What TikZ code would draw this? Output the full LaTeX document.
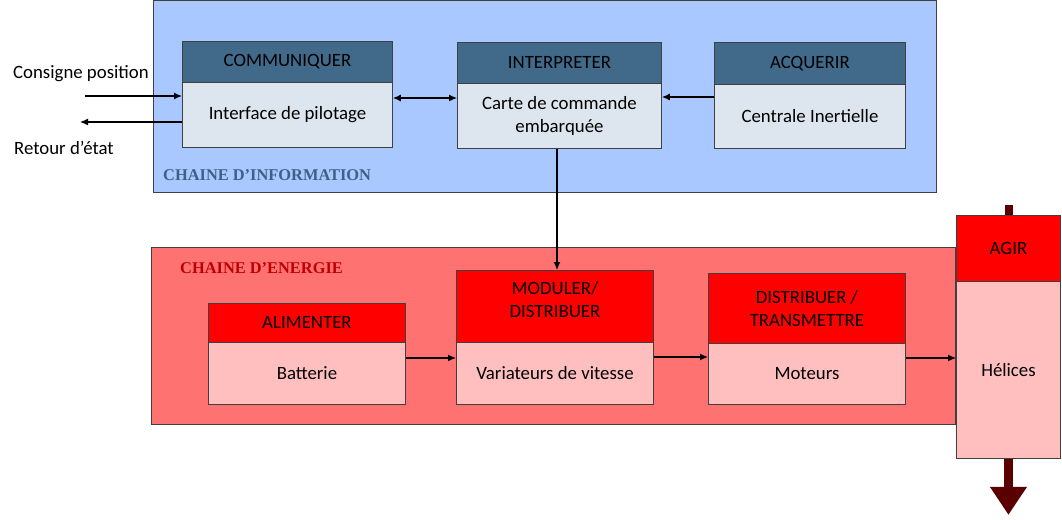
\documentclass[tikz,border=0pt]{standalone}
\usepackage{fontspec}
\setmainfont{Carlito}
\newfontfamily\titlefont{Liberation Serif}
\usetikzlibrary{arrows.meta,calc}
\definecolor{frameblue}{HTML}{A8C8FF}
\definecolor{hdrblue}{HTML}{416A8A}
\definecolor{bodyblue}{HTML}{DDE6EE}
\definecolor{framered}{HTML}{FF7272}
\definecolor{hdrred}{HTML}{FF0000}
\definecolor{bodyred}{HTML}{FFBFBF}
\definecolor{darkred}{HTML}{5A0000}
\definecolor{titleblue}{HTML}{3F6086}
\definecolor{titlered}{HTML}{C00000}
\definecolor{edge}{HTML}{404040}
\begin{document}
\begin{tikzpicture}[x=1pt,y=-1pt,
  txt/.style={font=\fontsize{18.8}{23}\selectfont},
  box/.style={txt,draw=edge,line width=0.9pt,rectangle,anchor=north west,inner sep=0pt,align=center},
  hdrB/.style={box,fill=hdrblue},
  bodyB/.style={box,fill=bodyblue},
  hdrR/.style={box,fill=hdrred},
  bodyR/.style={box,fill=bodyred},
  frame/.style={draw=edge,line width=0.9pt,rectangle,anchor=north west,inner sep=0pt},
  title/.style={font=\titlefont\bfseries\fontsize{16.4}{18}\selectfont,anchor=west,inner sep=0pt},
  arr/.style={line width=1.2pt,-{Latex[length=8pt,width=7pt]}},
  darr/.style={line width=1.2pt,{Latex[length=8pt,width=7pt]}-{Latex[length=8pt,width=7pt]}},
  lbl/.style={txt,inner sep=0pt,anchor=west}
]
\useasboundingbox (0,0) rectangle (1062,519);
% frames
\node[frame,fill=frameblue,minimum width=783pt,minimum height=192pt] (info) at (153,0) {};
\node[title,text=titleblue] (infot) at (163,175) {CHAINE D’INFORMATION};
\node[frame,fill=framered,minimum width=804pt,minimum height=177pt] (energ) at (151,247) {};
\node[title,text=titlered] (energt) at (180,268) {CHAINE D’ENERGIE};
% information blocks
\node[hdrB,minimum width=210pt,minimum height=41pt] (comH) at (182,41) {COMMUNIQUER};
\node[bodyB,minimum width=210pt,minimum height=65pt] (comB) at (182,82) {Interface de pilotage};
\node[hdrB,minimum width=204pt,minimum height=41pt] (intH) at (457,42) {INTERPRETER};
\node[bodyB,minimum width=204pt,minimum height=65pt] (intB) at (457,83) {Carte de commande\\embarquée};
\node[hdrB,minimum width=191pt,minimum height=42pt] (acqH) at (714,42) {ACQUERIR};
\node[bodyB,minimum width=191pt,minimum height=64pt] (acqB) at (714,84) {Centrale Inertielle};
% energy blocks
\node[hdrR,minimum width=197pt,minimum height=39pt] (aliH) at (208,303) {ALIMENTER};
\node[bodyR,minimum width=197pt,minimum height=62pt] (aliB) at (208,342) {Batterie};
\node[hdrR,minimum width=197pt,minimum height=72pt,label={[txt,align=center,yshift=7pt]center:MODULER/\\DISTRIBUER}] (modH) at (456,270) {};
\node[bodyR,minimum width=197pt,minimum height=62pt] (modB) at (456,342) {Variateurs de vitesse};
\node[hdrR,minimum width=197pt,minimum height=70pt] (disH) at (708,273) {DISTRIBUER /\\TRANSMETTRE};
\node[bodyR,minimum width=197pt,minimum height=61pt] (disB) at (708,343) {Moteurs};
\node[hdrR,minimum width=104pt,minimum height=66pt] (agiH) at (956,215) {AGIR};
\node[bodyR,minimum width=104pt,minimum height=177pt] (agiB) at (956,281) {Hélices};
% external labels
\node[lbl] (cons) at (13,74) {Consigne position};
\node[lbl] (ret) at (14,148) {Retour d’état};
\coordinate (consIn) at (85,96);
\coordinate (retOut) at (80,122);
% connectors
\draw[arr] (consIn) -- (comB.west |- consIn);
\draw[arr] (comB.west |- retOut) -- (retOut);
\draw[darr] (comB.east |- 0,98) -- (intB.west |- 0,98);
\draw[arr] (acqB.west |- 0,97) -- (intB.east |- 0,97);
\draw[arr] (intB.south -| 557,0) -- (modH.north -| 557,0);
\draw[arr] (aliB.east |- 0,358) -- (modB.west |- 0,358);
\draw[arr] (modB.east |- 0,357) -- (disB.west |- 0,357);
\draw[arr] (disB.east |- 0,358) -- (agiB.west |- 0,358);
% action arrows
\coordinate (topin) at (1008.5,205);
\draw[darkred,line width=8pt] (topin) -- (topin |- agiH.north);
\draw[darkred,line width=9pt,-{Triangle[length=28pt,width=35pt]}] (agiB.south) -- ++(0,56);
\end{tikzpicture}
\end{document}
